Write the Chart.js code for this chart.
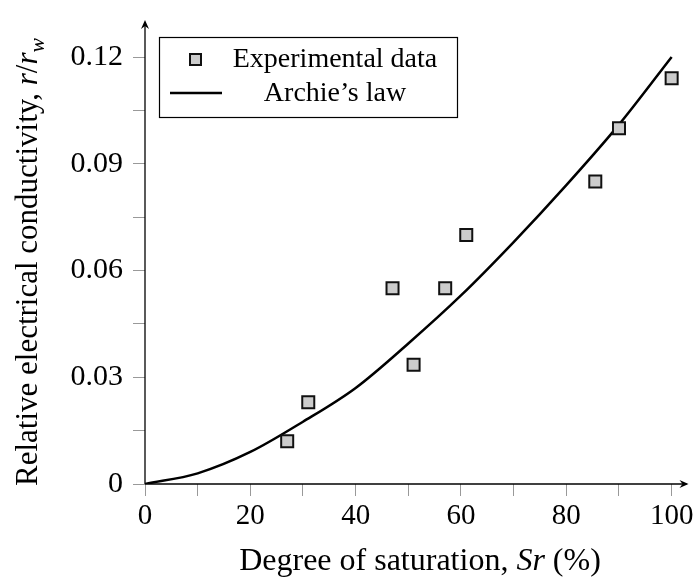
<!DOCTYPE html>
<html>
<head>
<meta charset="utf-8">
<script src="https://cdn.jsdelivr.net/npm/chart.js@4.4.1/dist/chart.umd.min.js"></script>
<style>
html,body{margin:0;padding:0;background:#fff;}
#wrap{width:699px;height:581px;position:relative;}
</style>
</head>
<body>
<div id="wrap"><canvas id="c" width="699" height="581"></canvas></div>
<script>
// ---- data ----
const expSr = [27, 31, 47, 51, 57, 61, 85.5, 90, 100];
const expR  = [0.012, 0.023, 0.055, 0.0335, 0.055, 0.070, 0.085, 0.100, 0.114];
const archieSr = [0, 10, 20, 30, 40, 50, 60, 70, 80, 90, 100];
const archieR  = [0, 0.003, 0.009, 0.0175, 0.027, 0.0395, 0.053, 0.068, 0.084, 0.101, 0.12];
const xTicks = [0, 10, 20, 30, 40, 50, 60, 70, 80, 90, 100];
const xTickLabels = ['0', '', '20', '', '40', '', '60', '', '80', '', '100'];
const yTicks = [0, 0.015, 0.03, 0.045, 0.06, 0.075, 0.09, 0.105, 0.12];
const yTickLabels = ['0', '', '0.03', '', '0.06', '', '0.09', '', '0.12'];
const legendLabels = ['Experimental data', "Archie\u2019s law"];

const SERIF = '"Liberation Serif", "DejaVu Serif", serif';

const expData = expSr.map((x, i) => ({x: x, y: expR[i]}));
const archieData = archieSr.map((x, i) => ({x: x, y: archieR[i]}));

const decor = {
  id: 'decor',
  afterDraw(chart) {
    const ctx = chart.ctx;
    const xs = chart.scales.x, ys = chart.scales.y;
    const x0 = xs.getPixelForValue(0), y0 = ys.getPixelForValue(0);
    const top = chart.chartArea.top, right = chart.chartArea.right;
    ctx.save();
    // axes with arrows
    ctx.strokeStyle = '#000'; ctx.fillStyle = '#000'; ctx.lineWidth = 1.3;
    ctx.beginPath(); ctx.moveTo(x0, y0); ctx.lineTo(x0, top + 2); ctx.stroke();
    ctx.beginPath(); ctx.moveTo(x0, y0); ctx.lineTo(right - 2, y0); ctx.stroke();
    ctx.beginPath();
    ctx.moveTo(x0, top); ctx.lineTo(x0 - 4, top + 9); ctx.lineTo(x0, top + 6); ctx.lineTo(x0 + 4, top + 9); ctx.closePath(); ctx.fill();
    ctx.beginPath();
    ctx.moveTo(right, y0); ctx.lineTo(right - 9, y0 - 4); ctx.lineTo(right - 6, y0); ctx.lineTo(right - 9, y0 + 4); ctx.closePath(); ctx.fill();

    // legend
    const lx = 159, ly = 37, lw = 298, lh = 80;
    ctx.fillStyle = '#fff';
    ctx.fillRect(lx, ly, lw, lh);
    ctx.strokeStyle = '#000'; ctx.lineWidth = 1.2;
    ctx.strokeRect(lx + 0.5, ly + 0.5, lw, lh);
    ctx.fillStyle = '#cccccc'; ctx.strokeStyle = '#111'; ctx.lineWidth = 2;
    ctx.fillRect(190, 54, 11, 11); ctx.strokeRect(190, 54, 11, 11);
    ctx.strokeStyle = '#000'; ctx.lineWidth = 2.5;
    ctx.beginPath(); ctx.moveTo(170, 93); ctx.lineTo(222, 93); ctx.stroke();
    ctx.fillStyle = '#000';
    ctx.font = '28px ' + SERIF;
    ctx.textAlign = 'center'; ctx.textBaseline = 'middle';
    ctx.fillText(legendLabels[0], 335, 60);
    ctx.fillText(legendLabels[1], 335, 94);

    drawMixed(ctx, [['Degree of saturation, ', false], ['Sr', true], [' (%)', false]], 420, 562, 32);
    ctx.save();
    ctx.translate(29, 262);
    ctx.rotate(-Math.PI / 2);
    drawMixed(ctx, [['Relative electrical conductivity, ', false], ['r', true], ['/', false], ['r', true], ['w', true, true]], 0, 0, 31);
    ctx.restore();
    ctx.restore();
  }
};

function drawMixed(ctx, parts, cx, cy, size) {
  ctx.textAlign = 'left'; ctx.textBaseline = 'middle'; ctx.fillStyle = '#000';
  let total = 0;
  const widths = parts.map(p => {
    const s = p[2] ? size * 0.7 : size;
    ctx.font = (p[1] ? 'italic ' : '') + s + 'px ' + SERIF;
    const w = ctx.measureText(p[0]).width;
    total += w; return w;
  });
  let x = cx - total / 2;
  parts.forEach((p, i) => {
    const s = p[2] ? size * 0.7 : size;
    ctx.font = (p[1] ? 'italic ' : '') + s + 'px ' + SERIF;
    ctx.fillText(p[0], x, p[2] ? cy + size * 0.3 : cy);
    x += widths[i];
  });
}

function zeroPad(s) {
  s.paddingTop = 0; s.paddingBottom = 0; s.paddingLeft = 0; s.paddingRight = 0;
}

new Chart(document.getElementById('c'), {
  type: 'scatter',
  data: {
    datasets: [
      {
        type: 'line',
        label: legendLabels[1],
        data: archieData,
        borderColor: '#000',
        borderWidth: 2.5,
        pointRadius: 0,
        fill: false,
        cubicInterpolationMode: 'monotone',
        order: 2
      },
      {
        label: legendLabels[0],
        data: expData,
        pointStyle: 'rect',
        pointRadius: 8.5,
        pointBackgroundColor: '#cccccc',
        pointBorderColor: '#111',
        pointBorderWidth: 2,
        order: 1
      }
    ]
  },
  options: {
    responsive: false,
    animation: false,
    layout: {padding: {top: 20, right: 0, left: 0, bottom: 0}},
    plugins: {legend: {display: false}, tooltip: {enabled: false}},
    scales: {
      x: {
        type: 'linear', min: 0, max: 103.2,
        afterBuildTicks: s => { s.ticks = xTicks.map(v => ({value: v})); },
        afterFit: s => { s.height = 97; zeroPad(s); },
        border: {display: false},
        grid: {display: true, drawOnChartArea: false, drawTicks: true, tickLength: 12, color: '#999', lineWidth: 1},
        ticks: {
          autoSkip: false, maxRotation: 0, padding: 3, color: '#000',
          font: {family: SERIF, size: 29},
          callback: (v, i) => xTickLabels[i]
        }
      },
      y: {
        type: 'linear', min: 0, max: 0.1304,
        afterBuildTicks: s => { s.ticks = yTicks.map(v => ({value: v})); },
        afterFit: s => { s.width = 145; zeroPad(s); },
        border: {display: false},
        grid: {display: true, drawOnChartArea: false, drawTicks: true, tickLength: 12, color: '#999', lineWidth: 1},
        ticks: {
          autoSkip: false, padding: 10, color: '#000',
          font: {family: SERIF, size: 30},
          callback: (v, i) => yTickLabels[i]
        }
      }
    }
  },
  plugins: [decor]
});
</script>
</body>
</html>
